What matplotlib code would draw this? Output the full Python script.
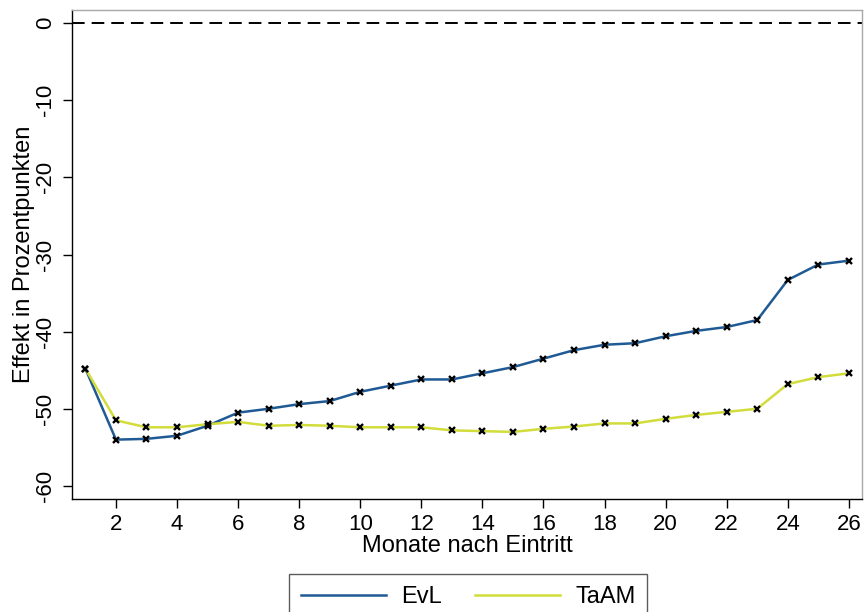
import matplotlib
matplotlib.use("Agg")
import matplotlib.pyplot as plt

plt.rcParams['font.family'] = ['Liberation Sans', 'DejaVu Sans']

months = list(range(1, 27))
evl = [-44.8, -54.0, -53.9, -53.5, -52.2, -50.5, -50.0, -49.4, -49.0, -47.8,
       -47.0, -46.2, -46.2, -45.4, -44.6, -43.5, -42.4, -41.7, -41.5, -40.6,
       -39.9, -39.4, -38.5, -33.3, -31.3, -30.8]
taam = [-44.8, -51.5, -52.4, -52.4, -52.0, -51.7, -52.2, -52.1, -52.2, -52.4,
        -52.4, -52.4, -52.8, -52.9, -53.0, -52.6, -52.3, -51.9, -51.9, -51.3,
        -50.8, -50.4, -50.0, -46.8, -45.9, -45.4]
xticks = list(range(2, 27, 2))
yticks = [0, -10, -20, -30, -40, -50, -60]

fig = plt.figure(figsize=(8.65, 6.12), dpi=100)
ax = fig.add_axes([0.0832, 0.1846, 0.9133, 0.7991])

c_evl = '#1f5a94'
c_taam = '#d2dc3a'
ax.axhline(0, color='black', lw=1.4, ls=(0, (6.5, 3.6)), zorder=1)
ax.plot(months, evl, color=c_evl, lw=1.8, label='EvL', zorder=2)
ax.plot(months, taam, color=c_taam, lw=1.8, label='TaAM', zorder=2)
ax.plot(months, evl, ls='none', marker='x', ms=4.5, mew=1.7, color='black', zorder=3)
ax.plot(months, taam, ls='none', marker='x', ms=4.5, mew=1.7, color='black', zorder=3)

ax.set_xlim(0.56, 26.43)
ax.set_ylim(-61.7, 1.7)
ax.set_xticks(xticks)
ax.set_yticks(yticks)
ax.set_yticklabels([str(v) for v in yticks], rotation=90, va='center')
ax.tick_params(axis='both', direction='out', length=6.5, width=1, labelsize=16, colors='black')
ax.tick_params(axis='x', pad=4)
ax.tick_params(axis='y', pad=5)
for s in ax.spines.values():
    s.set_color('black')
    s.set_linewidth(1)
ax.spines['top'].set_color('#a8a8a8')
ax.spines['right'].set_color('#a8a8a8')

ax.set_xlabel('Monate nach Eintritt', fontsize=17, labelpad=0)
ax.set_ylabel('Effekt in Prozentpunkten', fontsize=17, labelpad=0)

leg = fig.legend(handles=ax.get_lines()[1:3], labels=['EvL', 'TaAM'],
                 loc='upper center', bbox_to_anchor=(0.541, 0.062), ncol=2,
                 fontsize=17, frameon=True, fancybox=False, edgecolor='#333333',
                 handlelength=3.6, handletextpad=0.65, columnspacing=1.4,
                 borderpad=0.5, borderaxespad=0)
leg.get_frame().set_linewidth(1)

fig.savefig('out.png', dpi=100)
